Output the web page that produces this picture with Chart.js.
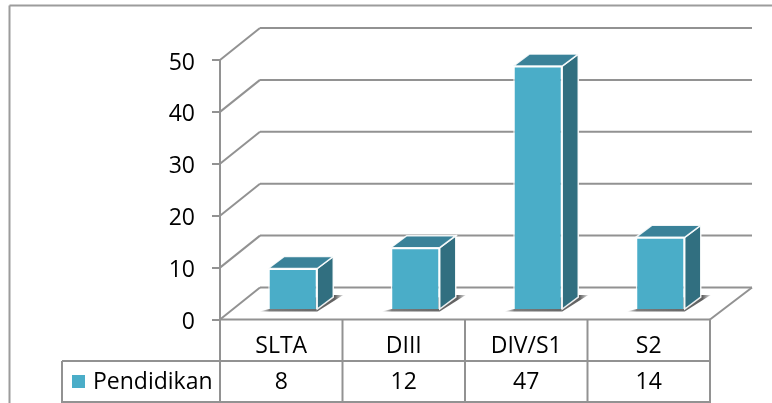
<!DOCTYPE html>
<html>
<head>
<meta charset="utf-8">
<style>html,body{margin:0;padding:0;background:#fff}canvas{display:block}</style>
<script src="https://cdn.jsdelivr.net/npm/chart.js@4/dist/chart.umd.min.js"></script>
</head>
<body>
<canvas id="c" width="772" height="403"></canvas>
<script>
const categories = ["SLTA", "DIII", "DIV/S1", "S2"];
const seriesName = "Pendidikan";
const seriesValues = [8, 12, 47, 14];
const yMax = 50;
const yStep = 10;

const LINE = "#929292", FRONT = "#4aadc8", SIDE = "#316f80", TOP = "#3a8299";
const FONT = "'Open Sans', sans-serif";
const WALL = {dx: 40, dy: -32, extra: 2};     // back wall offset
const BAR = {dx: 11.5, dy: -9.5};             // bar position inside depth
const DEPTH = {dx: 16, dy: -12};              // bar depth

function seg(ctx, x1, y1, x2, y2) { ctx.beginPath(); ctx.moveTo(x1, y1); ctx.lineTo(x2, y2); ctx.stroke(); }
function poly(ctx, pts, fill, stroke, lw) {
  ctx.beginPath();
  pts.forEach((p, i) => i ? ctx.lineTo(p[0], p[1]) : ctx.moveTo(p[0], p[1]));
  ctx.closePath();
  if (fill) { ctx.fillStyle = fill; ctx.fill(); }
  if (stroke) { ctx.strokeStyle = stroke; ctx.lineWidth = lw; ctx.stroke(); }
}

const bars3d = {
  id: "bars3d",
  beforeDatasetsDraw(chart) {
    const {ctx, scales: {x, y}, chartArea: a} = chart;
    ctx.save();
    // outer frame
    ctx.strokeStyle = "#9c9c9c"; ctx.lineWidth = 2;
    seg(ctx, 9.5, 403, 9.5, 5.5); seg(ctx, 9.5, 5.5, 772, 5.5);
    // walls
    ctx.strokeStyle = LINE; ctx.lineWidth = 2;
    y.ticks.forEach(t => {
      const py = y.getPixelForValue(t.value);
      seg(ctx, a.left, py, a.left + WALL.dx, py + WALL.dy);
      seg(ctx, a.left + WALL.dx, py + WALL.dy, a.right + WALL.dx + WALL.extra, py + WALL.dy);
    });
    const f = y.getPixelForValue(0);
    seg(ctx, a.right, f, a.right + WALL.dx + WALL.extra, f + WALL.dy);
    ctx.restore();
  },
  beforeDatasetDraw(chart, args) {
    const {ctx} = chart;
    const els = chart.getDatasetMeta(args.index).data;
    ctx.save();
    els.forEach(el => {
      const w = el.width, L = el.x - w / 2 + BAR.dx, R = L + w, T = el.y + BAR.dy, B = el.base + BAR.dy;
      // floor shadow
      const g = ctx.createLinearGradient(L - 9, 0, R + 26, 0);
      g.addColorStop(0, "rgba(80,80,80,0)");
      g.addColorStop(0.12, "rgba(80,80,80,.75)");
      g.addColorStop(0.9, "rgba(80,80,80,.9)");
      g.addColorStop(1, "rgba(80,80,80,.15)");
      poly(ctx, [[L - 9, B + 2.5], [R, B + 2.5], [R + 26, B - 14], [R + 8, B - 14]], g);
      // side and top faces
      const dx = DEPTH.dx, dy = DEPTH.dy;
      poly(ctx, [[R, T], [R + dx, T + dy], [R + dx, B + dy], [R, B]], SIDE, "rgba(255,255,255,.9)", 1.5);
      poly(ctx, [[L, T], [L + dx, T + dy], [R + dx, T + dy], [R, T]], TOP, "rgba(255,255,255,.9)", 1.5);
    });
    // the library's own bars form the front faces, moved back into the depth
    ctx.translate(BAR.dx, BAR.dy);
  },
  afterDatasetDraw(chart) { chart.ctx.restore(); },
  afterDraw(chart) {
    const {ctx, scales: {x, y}, chartArea: a} = chart;
    const f = y.getPixelForValue(0);
    const r1 = 361, r2 = 402, legL = 62;
    const step = (a.right - a.left) / categories.length;
    ctx.save();
    ctx.strokeStyle = LINE; ctx.lineWidth = 2;
    seg(ctx, a.left, f, a.right, f);
    seg(ctx, legL, r1, a.right, r1);
    seg(ctx, legL, r2, a.right, r2);
    seg(ctx, legL, r1, legL, 403);
    seg(ctx, a.left, a.top, a.left, 403);
    categories.forEach((c, i) => seg(ctx, a.left + step * (i + 1), f, a.left + step * (i + 1), 403));
    // legend key and values row
    ctx.fillStyle = FRONT; ctx.fillRect(72, 375, 13, 13);
    ctx.fillStyle = "#000"; ctx.font = "23px " + FONT; ctx.textBaseline = "middle";
    ctx.textAlign = "left"; ctx.fillText(seriesName, 93, 382);
    ctx.textAlign = "center";
    seriesValues.forEach((v, i) => ctx.fillText(String(v), x.getPixelForValue(i), 382));
    ctx.restore();
  }
};

new Chart(document.getElementById("c"), {
  type: "bar",
  data: {
    labels: categories,
    datasets: [{
      label: seriesName, data: seriesValues,
      backgroundColor: FRONT, borderColor: "rgba(255,255,255,.85)", borderWidth: 1.5,
      barPercentage: 0.4, categoryPercentage: 1
    }]
  },
  options: {
    responsive: false, animation: false, devicePixelRatio: 1,
    layout: {padding: {top: 60, right: 62, left: 0, bottom: 0}},
    plugins: {legend: {display: false}, tooltip: {enabled: false}},
    scales: {
      x: {
        afterFit: s => { s.height = 83.5; },
        grid: {display: false}, border: {display: false},
        ticks: {color: "#000", font: {family: FONT, size: 23}, padding: 5, maxRotation: 0}
      },
      y: {
        min: 0, max: yMax,
        afterFit: s => { s.width = 220; },
        grid: {drawOnChartArea: false, color: LINE, lineWidth: 2, tickLength: 8},
        border: {color: LINE, width: 2},
        ticks: {stepSize: yStep, color: "#000", font: {family: FONT, size: 23}, padding: 17, labelOffset: 3}
      }
    }
  },
  plugins: [bars3d]
});
</script>
</body>
</html>
